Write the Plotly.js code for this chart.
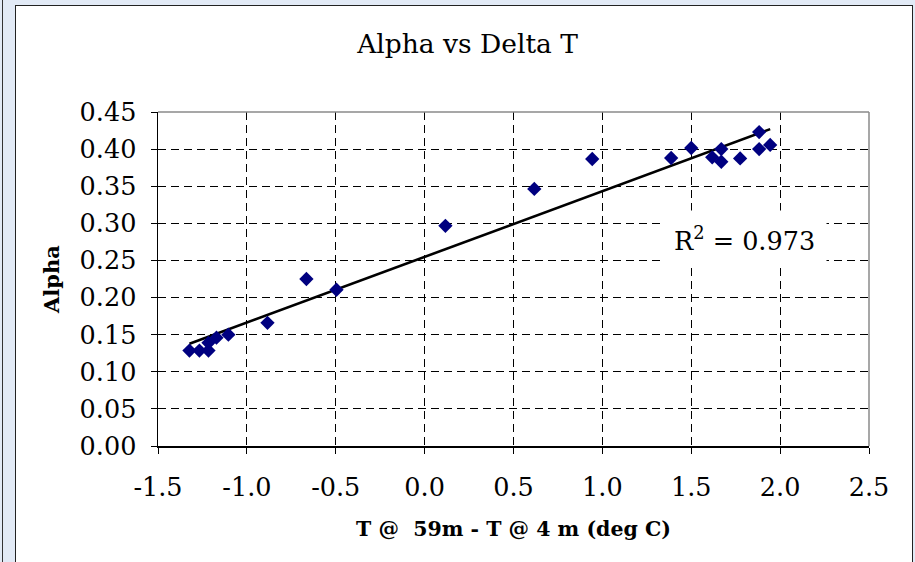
<!DOCTYPE html>
<html>
<head>
<meta charset="utf-8">
<script src="https://cdn.plot.ly/plotly-3.0.1.min.js"></script>
<style>
  html, body { margin: 0; padding: 0; width: 915px; height: 562px; overflow: hidden; background: #e2eaf6; }
  #leftline { position: absolute; left: 2px; top: 0; width: 1px; height: 562px; background: #333; }
  #frame { position: absolute; left: 15px; top: 5px; width: 896px; height: 600px; border: 1px solid #222; background: #ffffff; }
  #chart { position: absolute; left: 0; top: 0; width: 915px; height: 562px; }
</style>
</head>
<body>
<div id="leftline"></div>
<div id="frame"></div>
<div id="chart"></div>
<script>
// Data
const deltaT = [-1.323, -1.267, -1.216, -1.216, -1.171, -1.104, -0.884, -0.665, -0.496, 0.117, 0.617, 0.943,
                1.387, 1.500, 1.618, 1.669, 1.669, 1.775, 1.882, 1.882, 1.944];
const alpha  = [0.1285, 0.1285, 0.1285, 0.139, 0.146, 0.150, 0.166, 0.225, 0.2105, 0.2966, 0.3464, 0.3867,
                0.388, 0.4015, 0.389, 0.400, 0.383, 0.3875, 0.423, 0.400, 0.4056];
const xTickVals = [-1.5, -1.0, -0.5, 0.0, 0.5, 1.0, 1.5, 2.0, 2.5];
const yTickVals = [0.00, 0.05, 0.10, 0.15, 0.20, 0.25, 0.30, 0.35, 0.40, 0.45];
const r2Label = '0.973';
const chartTitle = 'Alpha vs Delta T';
const xTitle = 'T @  59m - T @ 4 m (deg C)';
const yTitle = 'Alpha';

// Linear least-squares trend line computed from the data
const n = deltaT.length;
const mx = deltaT.reduce((a, b) => a + b, 0) / n;
const my = alpha.reduce((a, b) => a + b, 0) / n;
let sxy = 0, sxx = 0;
for (let i = 0; i < n; i++) { sxy += (deltaT[i] - mx) * (alpha[i] - my); sxx += (deltaT[i] - mx) ** 2; }
const slope = sxy / sxx;
const intercept = my - slope * mx;
const xMin = Math.min(...deltaT), xMax = Math.max(...deltaT);
const trendX = [xMin, xMax];
const trendY = trendX.map(x => intercept + slope * x);

const serif = 'DejaVu Serif, serif';

const traces = [
  { x: trendX, y: trendY, type: 'scatter', mode: 'lines',
    line: { color: '#000000', width: 2.6 }, hoverinfo: 'skip', showlegend: false },
  { x: deltaT, y: alpha, type: 'scatter', mode: 'markers',
    marker: { symbol: 'diamond', size: 11, color: '#000080', line: { width: 0 } }, showlegend: false }
];

const layout = {
  width: 915, height: 562,
  margin: { l: 157.5, r: 46, t: 112, b: 115.5 },
  paper_bgcolor: 'rgba(0,0,0,0)',
  plot_bgcolor: '#ffffff',
  showlegend: false,
  title: { text: chartTitle, font: { family: serif, size: 26.5, color: '#000' }, x: 0.511, xanchor: 'center', y: 0.922, yanchor: 'middle' },
  xaxis: {
    range: [-1.5, 2.5], tickvals: xTickVals, ticktext: xTickVals.map(v => v.toFixed(1)),
    showgrid: true, gridcolor: '#000000', gridwidth: 1, griddash: '8px,5px',
    zeroline: false, showline: true, linecolor: '#000000', linewidth: 1.5,
    ticks: 'outside', ticklen: 6, tickcolor: '#000', tickwidth: 1,
    ticklabelstandoff: 12,
    tickfont: { family: serif, size: 25.5, color: '#000' },
    title: { text: xTitle, font: { family: serif, size: 20.5, color: '#000', weight: 'bold' }, standoff: 20 }
  },
  yaxis: {
    range: [0, 0.45], tickvals: yTickVals, ticktext: yTickVals.map(v => v.toFixed(2)),
    showgrid: true, gridcolor: '#000000', gridwidth: 1, griddash: '8px,5px',
    zeroline: false, showline: true, linecolor: '#000000', linewidth: 1.5,
    ticks: 'outside', ticklen: 6, tickcolor: '#000', tickwidth: 1,
    ticklabelstandoff: 9,
    tickfont: { family: serif, size: 25.5, color: '#000' },
    title: { text: yTitle, font: { family: serif, size: 21, color: '#000', weight: 'bold' }, standoff: 14 }
  },
  shapes: [
    { type: 'line', xref: 'paper', yref: 'paper', x0: 0, x1: 1, y0: 1, y1: 1, line: { color: '#8a8a8a', width: 1.5 } },
    { type: 'line', xref: 'paper', yref: 'paper', x0: 1, x1: 1, y0: 0, y1: 1, line: { color: '#8a8a8a', width: 1.5 } }
  ],
  annotations: [
    { x: 1.80, y: 0.279, xref: 'x', yref: 'y', text: 'R<sup>2</sup> = ' + r2Label, showarrow: false,
      font: { family: serif, size: 25.5, color: '#000' }, bgcolor: '#ffffff', borderpad: 11,
      xanchor: 'center', yanchor: 'middle' }
  ]
};

Plotly.newPlot('chart', traces, layout, { displayModeBar: false, staticPlot: true });
</script>
</body>
</html>
